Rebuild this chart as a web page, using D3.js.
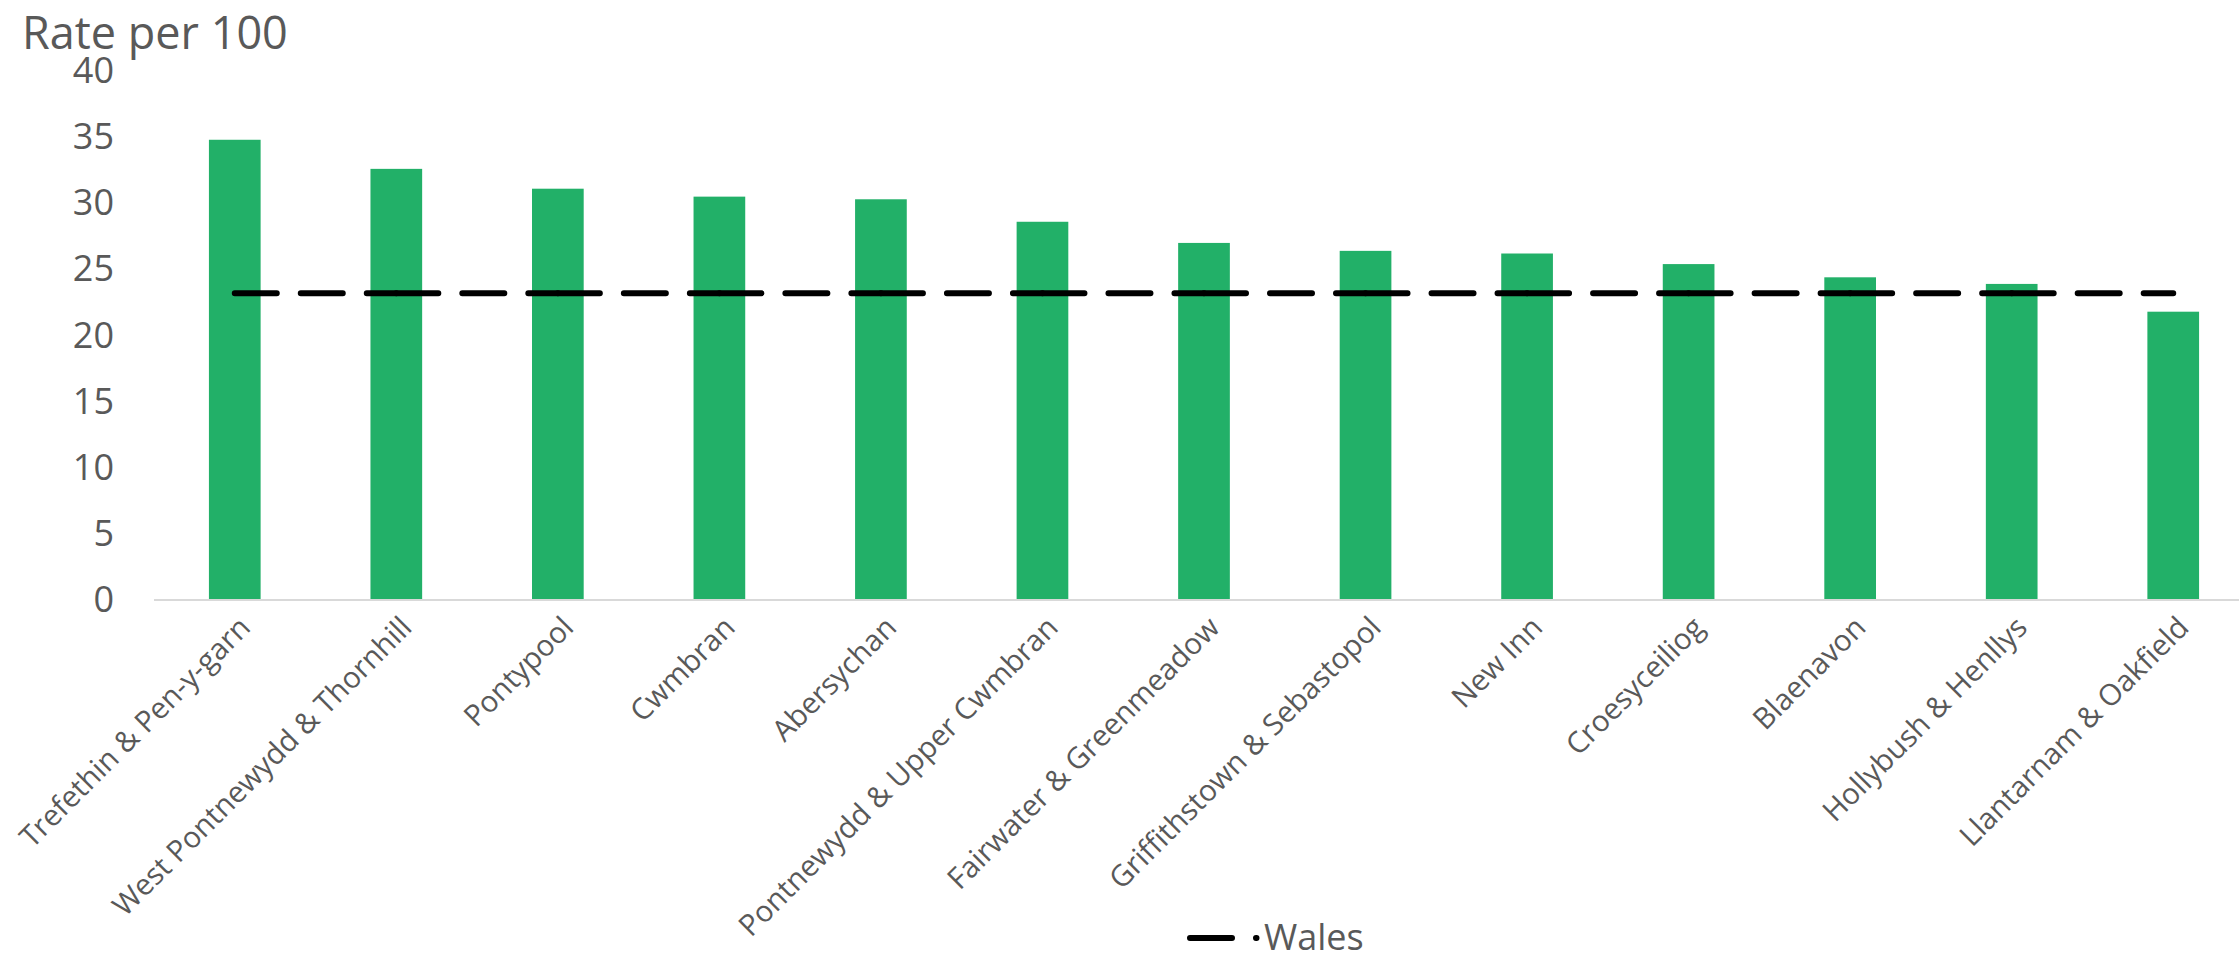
<!DOCTYPE html>
<html>
<head>
<meta charset="utf-8">
<script src="https://cdn.jsdelivr.net/npm/d3@7"></script>
<style>
  html, body { margin: 0; padding: 0; background: #fff; }
  svg { display: block; font-family: "Open Sans", sans-serif; }
</style>
</head>
<body>
<svg id="chart" width="2239" height="962"></svg>
<script>
const categories = [
  "Trefethin & Pen-y-garn",
  "West Pontnewydd & Thornhill",
  "Pontypool",
  "Cwmbran",
  "Abersychan",
  "Pontnewydd & Upper Cwmbran",
  "Fairwater & Greenmeadow",
  "Griffithstown & Sebastopol",
  "New Inn",
  "Croesyceiliog",
  "Blaenavon",
  "Hollybush & Henllys",
  "Llantarnam & Oakfield"
];
const rateValues = [34.8, 32.6, 31.1, 30.5, 30.3, 28.6, 27.0, 26.4, 26.2, 25.4, 24.4, 23.9, 21.8];
const walesValues = [23.2, 23.2, 23.2, 23.2, 23.2, 23.2, 23.2, 23.2, 23.2, 23.2, 23.2, 23.2, 23.2];
const yTicks = [0, 5, 10, 15, 20, 25, 30, 35, 40];
const yTitle = "Rate per 100";
const legendLabel = "Wales";

const svg = d3.select("#chart");
const textColor = "#595959";
const barColor = "#22B068";

const x = d3.scaleBand()
  .domain(categories)
  .range([154, 2254])
  .paddingInner(0.68)
  .paddingOuter(0.34);

const y = d3.scaleLinear().domain([0, 40]).range([600, 71]);

// bars
svg.append("g").selectAll("rect")
  .data(categories)
  .join("rect")
  .attr("x", d => x(d))
  .attr("width", x.bandwidth())
  .attr("y", (d, i) => y(rateValues[i]))
  .attr("height", (d, i) => y(0) - y(rateValues[i]))
  .attr("fill", barColor);

// x axis baseline
svg.append("line")
  .attr("x1", x.range()[0]).attr("x2", x.range()[1])
  .attr("y1", y(0)).attr("y2", y(0))
  .attr("stroke", "#D9D9D9").attr("stroke-width", 2);

// y axis labels
const yAxis = d3.axisLeft(y).tickValues(yTicks).tickSize(0).tickPadding(0);
const yg = svg.append("g").attr("transform", "translate(114,0)").call(yAxis);
yg.select(".domain").remove();
yg.selectAll("text")
  .attr("fill", textColor)
  .style("font-size", "36px")
  .style("font-family", "'Open Sans', sans-serif");

// y title
svg.append("text")
  .attr("x", 22).attr("y", 49)
  .attr("fill", textColor)
  .style("font-size", "45px")
  .text(yTitle);

// x labels
const cx = d => x(d) + x.bandwidth() / 2;
svg.append("g").selectAll("text")
  .data(categories)
  .join("text")
  .attr("transform", d => `translate(${cx(d) + 10},${622}) rotate(-45)`)
  .attr("text-anchor", "end")
  .attr("dy", "0.35em")
  .attr("fill", textColor)
  .style("font-size", "29.5px")
  .text(d => d);

// Wales dashed line, drawn per segment (dash pattern restarts at each category)
const segs = d3.pairs(categories.map((c, i) => [cx(c), y(walesValues[i])]));
svg.append("g").selectAll("line")
  .data(segs)
  .join("line")
  .attr("x1", d => d[0][0]).attr("y1", d => d[0][1])
  .attr("x2", d => d[1][0]).attr("y2", d => d[1][1])
  .attr("stroke", "#000")
  .attr("stroke-width", 6)
  .attr("stroke-linecap", "round")
  .attr("stroke-dasharray", "42,24");

// legend
const lg = svg.append("g");
lg.append("line")
  .attr("x1", 1190).attr("x2", 1256.5)
  .attr("y1", 938).attr("y2", 938)
  .attr("stroke", "#000")
  .attr("stroke-width", 6)
  .attr("stroke-linecap", "round")
  .attr("stroke-dasharray", "42,24");
lg.append("text")
  .attr("x", 1264).attr("y", 937)
  .attr("dy", "0.35em")
  .attr("fill", textColor)
  .style("font-size", "36px")
  .text(legendLabel);
</script>
</body>
</html>
